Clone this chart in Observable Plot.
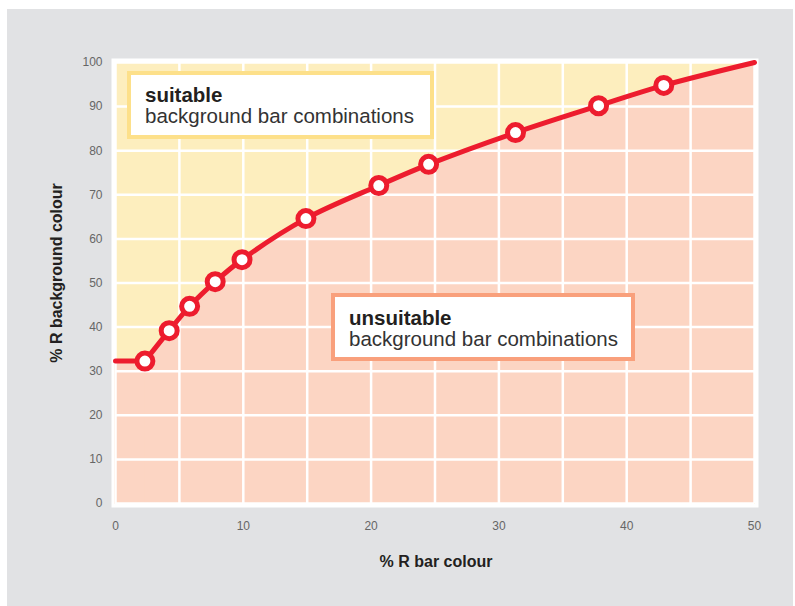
<!DOCTYPE html>
<html>
<head>
<meta charset="utf-8">
<script src="https://cdn.jsdelivr.net/npm/d3@7"></script>
<script src="https://cdn.jsdelivr.net/npm/@observablehq/plot@0.6"></script>
<style>
  body { margin: 0; background: #fff; font-family: "Liberation Sans", Arial, Helvetica, sans-serif; }
  #wrap { position: relative; width: 795px; height: 606px; overflow: hidden; }
  #panel { position: absolute; left: 7px; top: 9px; width: 786px; height: 597px; background: #e1e2e4; }
  #chart { position: absolute; left: 0; top: 0; }
  .box { position: absolute; box-sizing: border-box; background: #fff; border-style: solid; border-width: 4.5px; }
  .btxt { position: absolute; font-size: 20.5px; line-height: 21px; color: #333; white-space: nowrap; }
  .btxt b { color: #231f20; }
  .atitle { position: absolute; font-size: 16px; font-weight: bold; color: #231f20; white-space: nowrap; transform: translate(-50%, -50%); }
</style>
</head>
<body>
<div id="wrap">
  <div id="panel"></div>
  <div id="chart"></div>
  <div class="box" style="left:127px; top:71px; width:307px; height:68px; border-color:#fde08a;"></div>
  <div class="btxt" style="left:145px; top:84px;"><b>suitable</b><br>background bar combinations</div>
  <div class="box" style="left:331px; top:293px; width:304px; height:68px; border-color:#f9a07c;"></div>
  <div class="btxt" style="left:349px; top:307px;"><b>unsuitable</b><br>background bar combinations</div>
  <div class="atitle" style="left:57px; top:273px; transform: translate(-50%, -50%) rotate(-90deg);">% R background colour</div>
  <div class="atitle" style="left:436px; top:562px;">% R bar colour</div>
</div>
<script>
// Measured points: % R of bar colour vs minimum % R of background colour
const barR = [2.3, 4.2, 5.8, 7.8, 9.9, 14.9, 20.6, 24.5, 31.3, 37.8, 42.9];
const backgroundR = [32.3, 39.2, 44.7, 50.3, 55.3, 64.6, 72.1, 76.9, 84.1, 90.2, 94.8];
// Where the boundary line starts (flat) and ends
const lineStartBar = 0, lineStartBg = 32.3;
const lineEndBar = 50, lineEndBg = 100;
const xTicks = [0, 10, 20, 30, 40, 50];
const yTicks = [0, 10, 20, 30, 40, 50, 60, 70, 80, 90, 100];
const xGrid = [0, 5, 10, 15, 20, 25, 30, 35, 40, 45, 50];

const points = barR.map((b, i) => ({x: b, y: backgroundR[i]}));
const flat = [{x: lineStartBar, y: lineStartBg}, points[0]];
const curve = [...points, {x: lineEndBar, y: lineEndBg}];

const RED = "#ed1c2e";
const SALMON = "#fcd5c3";
const YELLOW = "#fdeebe";

const chart = Plot.plot({
  width: 795,
  height: 606,
  marginLeft: 115,
  marginRight: 41,
  marginTop: 62,
  marginBottom: 103,
  style: {background: "transparent", fontFamily: "'Liberation Sans', Arial, sans-serif"},
  x: {domain: [0, 50]},
  y: {domain: [0, 100]},
  marks: [
    Plot.frame({fill: "white", inset: -4}),
    Plot.frame({fill: YELLOW}),
    Plot.areaY(flat, {x: "x", y: "y", fill: SALMON, stroke: SALMON, strokeWidth: 1}),
    Plot.areaY(curve, {x: "x", y: "y", fill: SALMON, stroke: SALMON, strokeWidth: 1, curve: "catmull-rom"}),
    Plot.ruleX(xGrid, {stroke: "white", strokeWidth: 2.5}),
    Plot.ruleY(yTicks, {stroke: "white", strokeWidth: 2.5}),
    Plot.line(flat, {x: "x", y: "y", stroke: RED, strokeWidth: 5}),
    Plot.line(curve, {x: "x", y: "y", stroke: RED, strokeWidth: 5, curve: "catmull-rom"}),
    Plot.dot(points, {x: "x", y: "y", r: 8, fill: "white", stroke: RED, strokeWidth: 5}),
    Plot.axisX(xTicks, {tickSize: 0, tickPadding: 18, fontSize: 12, fill: "#666", label: null}),
    Plot.axisY(yTicks, {tickSize: 0, tickPadding: 13, fontSize: 12, fill: "#666", label: null})
  ]
});
document.getElementById("chart").appendChild(chart);
</script>
</body>
</html>
